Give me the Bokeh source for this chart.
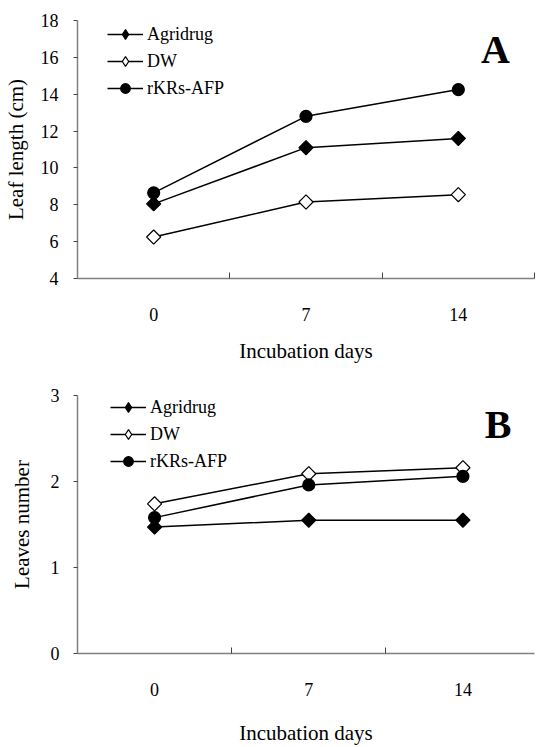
import numpy as np
from bokeh.plotting import figure
from bokeh.layouts import column
from bokeh.models import FixedTicker, Legend, LegendItem, Label, Range1d
from bokeh.embed import file_html
from bokeh.resources import INLINE

# ---- data ----
days = [0, 7, 14]
day_labels = ["0", "7", "14"]
day_boundaries = [3.5, 10.5, 17.5]
series_names = ["Agridrug", "DW", "rKRs-AFP"]

leaf_agridrug = [8.05, 11.1, 11.6]
leaf_dw = [6.25, 8.15, 8.55]
leaf_rkrs = [8.65, 12.8, 14.25]
leaf_ticks = [4, 6, 8, 10, 12, 14, 16, 18]

leaves_agridrug = [1.47, 1.55, 1.55]
leaves_dw = [1.74, 2.09, 2.16]
leaves_rkrs = [1.58, 1.96, 2.06]
leaves_ticks = [0, 1, 2, 3]

FONT = "Liberation Serif"

# marker styles per series: (plot marker, angle, key marker, fill, size, key size)
styles = [
    ("square", np.pi / 4, "diamond", "black", 10, 13),
    ("square", np.pi / 4, "diamond", "white", 10, 13),
    ("circle", 0.0, "circle", "black", 12, 10),
]


def make_panel(series, y_start, y_end, yticks, ylabel, letter, letter_pos,
               width, height, x_end, borders, legend_loc, standoffs):
    bl, br, bt, bb = borders
    p = figure(width=width, height=height, output_backend="svg",
               toolbar_location=None,
               x_range=Range1d(-3.5, x_end), y_range=Range1d(y_start, y_end),
               min_border_left=bl, min_border_right=br,
               min_border_top=bt, min_border_bottom=bb)
    p.outline_line_color = None
    p.xgrid.visible = False
    p.ygrid.visible = False
    p.background_fill_color = "white"

    items = []
    for name, vals, (mk, ang, kmk, fill, sz, ksz) in zip(series_names, series, styles):
        ln = p.line(days, vals, line_color="black", line_width=1.5)
        # key marker (used by the legend); hidden beneath the plot marker
        key = p.scatter(days, vals, marker=kmk, size=ksz, fill_color=fill,
                        line_color="black", line_width=1.2)
        p.scatter(days, vals, marker=mk, angle=ang, size=sz,
                  fill_color=fill, line_color="black", line_width=1.2)
        items.append(LegendItem(label=name, renderers=[ln, key]))

    leg = Legend(items=items, location=legend_loc, margin=0, padding=0,
                 spacing=3, glyph_width=36, glyph_height=24, label_height=24,
                 label_standoff=4, border_line_color=None,
                 background_fill_alpha=0,
                 label_text_font=FONT, label_text_font_size="18px",
                 label_text_color="black")
    p.add_layout(leg)

    # x axis
    xa = p.xaxis[0]
    xa.ticker = FixedTicker(ticks=days, minor_ticks=day_boundaries)
    xa.major_label_overrides = {d: l for d, l in zip(days, day_labels)}
    xa.major_tick_line_color = None
    xa.minor_tick_in = 6
    xa.minor_tick_out = 0
    xa.minor_tick_line_color = "#444444"
    xa.axis_line_color = "#808080"
    xa.axis_line_width = 1.5
    xa.major_label_standoff = standoffs[0]
    xa.major_label_text_font = FONT
    xa.major_label_text_font_size = "18px"
    xa.major_label_text_color = "black"
    xa.axis_label = "Incubation days"
    xa.axis_label_text_font = FONT
    xa.axis_label_text_font_style = "normal"
    xa.axis_label_text_font_size = "21px"
    xa.axis_label_text_color = "black"
    xa.axis_label_standoff = standoffs[1]

    # y axis
    ya = p.yaxis[0]
    ya.ticker = FixedTicker(ticks=yticks)
    ya.minor_tick_line_color = None
    ya.major_tick_in = 0
    ya.major_tick_out = 4
    ya.major_tick_line_color = "#444444"
    ya.axis_line_color = "#808080"
    ya.axis_line_width = 1.5
    ya.major_label_standoff = standoffs[2]
    ya.major_label_text_font = FONT
    ya.major_label_text_font_size = "18px"
    ya.major_label_text_color = "black"
    ya.axis_label = ylabel
    ya.axis_label_text_font = FONT
    ya.axis_label_text_font_style = "normal"
    ya.axis_label_text_font_size = "21px"
    ya.axis_label_text_color = "black"
    ya.axis_label_standoff = standoffs[3]

    p.add_layout(Label(x=letter_pos[0], y=letter_pos[1], text=letter,
                       text_font=FONT, text_font_style="bold",
                       text_font_size="40px", text_align="center",
                       text_baseline="middle", text_color="black"))
    return p


pA = make_panel([leaf_agridrug, leaf_dw, leaf_rkrs], 4, 18, leaf_ticks,
                "Leaf length (cm)", "A", (15.7, 16.45),
                536, 372, 17.5, (77, 2, 20, 94), (30, 178), (23, 15, 15, 10))
pB = make_panel([leaves_agridrug, leaves_dw, leaves_rkrs], 0, 3, leaves_ticks,
                "Leaves number", "B", (15.6, 2.66),
                536, 375, 17.25, (72, 0, 23, 92), (33, 180), (23, 22, 14, 14))

layout = column(pA, pB, spacing=0)
open("out.html", "w").write(file_html(layout, INLINE))
